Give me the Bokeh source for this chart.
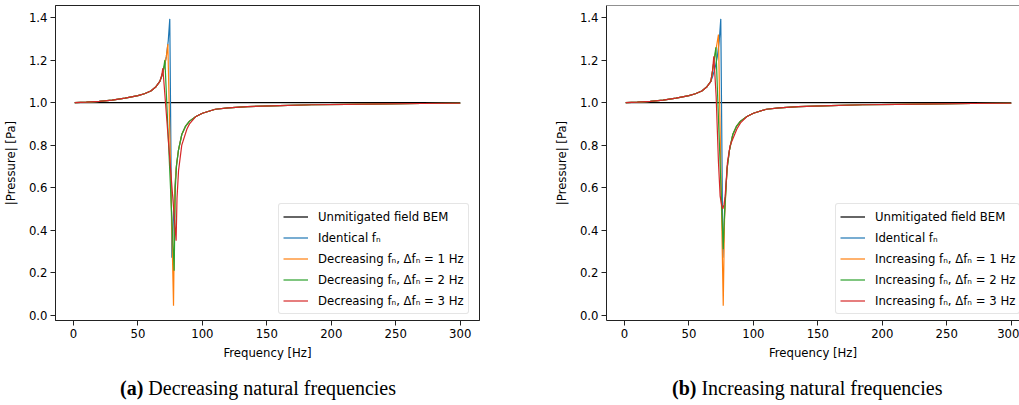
from bokeh.plotting import figure
from bokeh.layouts import row, column
from bokeh.models import FixedTicker, PrintfTickFormatter, Span, Range1d, Div
from bokeh.embed import file_html
from bokeh.resources import INLINE

# ---------------- data ----------------
# shared low-frequency rise (Hz, Pa)
f_low = [1, 10, 20, 30, 40, 50, 55, 60, 64, 67]
p_low = [1.000, 1.002, 1.006, 1.012, 1.021, 1.033, 1.042, 1.055, 1.075, 1.100]

# shared high-frequency tail
f_tail = [95, 100, 110, 120, 135, 160, 185, 212, 240, 270, 300]
p_tail = [0.935, 0.950, 0.969, 0.975, 0.981, 0.986, 0.990, 0.992, 0.994, 0.996, 0.997]

# unmitigated field (BEM)
f_bem = [1, 300]
p_bem = [1.0, 1.0]

# identical natural frequencies (same in both panels)
f_ident = [68.5, 70.5, 72.0, 73.5, 74.7, 76.3, 77.2, 78.1, 79.6, 81.4, 84.0, 87.0, 90.0]
p_ident = [1.125, 1.170, 1.215, 1.290, 1.394, 0.270, 0.400, 0.540, 0.690, 0.775, 0.850, 0.890, 0.913]

# (a) decreasing natural frequencies
f_dec1 = [68.5, 70.5, 72.0, 73.2, 77.6, 78.6, 79.6, 81.4, 84.0, 87.0, 90.0]
p_dec1 = [1.125, 1.170, 1.215, 1.276, 0.045, 0.580, 0.690, 0.775, 0.850, 0.890, 0.913]
f_dec2 = [68.5, 70.0, 70.9, 78.1, 79.0, 80.0, 81.4, 84.0, 87.0, 90.0]
p_dec2 = [1.125, 1.165, 1.201, 0.209, 0.600, 0.710, 0.775, 0.850, 0.890, 0.913]
f_dec3 = [68.5, 69.3, 79.6, 80.3, 81.5, 84.0, 88.0, 90.0]
p_dec3 = [1.130, 1.163, 0.350, 0.550, 0.680, 0.800, 0.876, 0.900]

# (b) increasing natural frequencies
f_inc1 = [68.3, 69.5, 71.0, 72.9, 76.6, 77.6, 78.6, 79.6, 81.4, 84.0, 87.0, 90.0]
p_inc1 = [1.150, 1.200, 1.250, 1.320, 0.045, 0.450, 0.580, 0.690, 0.775, 0.850, 0.890, 0.913]
f_inc2 = [68.3, 69.5, 70.9, 76.6, 77.6, 78.6, 79.6, 81.4, 84.0, 87.0, 90.0]
p_inc2 = [1.150, 1.200, 1.260, 0.310, 0.480, 0.580, 0.690, 0.775, 0.850, 0.890, 0.913]
f_inc3 = [68.3, 69.3, 71.1, 72.9, 74.2, 75.3, 76.3, 77.2, 78.1, 79.9, 82.0, 87.2, 90.0]
p_inc3 = [1.150, 1.218, 1.030, 0.720, 0.560, 0.520, 0.500, 0.520, 0.560, 0.720, 0.800, 0.876, 0.905]

x_ticks = [0, 50, 100, 150, 200, 250, 300]
y_ticks = [0.0, 0.2, 0.4, 0.6, 0.8, 1.0, 1.2, 1.4]

labels_dec = ["Unmitigated field BEM", "Identical fₙ",
              "Decreasing fₙ, Δfₙ = 1 Hz", "Decreasing fₙ, Δfₙ = 2 Hz",
              "Decreasing fₙ, Δfₙ = 3 Hz"]
labels_inc = ["Unmitigated field BEM", "Identical fₙ",
              "Increasing fₙ, Δfₙ = 1 Hz", "Increasing fₙ, Δfₙ = 2 Hz",
              "Increasing fₙ, Δfₙ = 3 Hz"]
captions = [("(a)", "Decreasing natural frequencies"),
            ("(b)", "Increasing natural frequencies")]

colors = ["#000000", "#1f77b4", "#ff7f0e", "#2ca02c", "#d62728"]

FONT = "DejaVu Sans"
FS = "11.7px"
PX_PER_HZ = 424 / (314.95 + 13.95)


def full(f_mid, p_mid):
    return f_low + f_mid + f_tail, p_low + p_mid + p_tail


def make_panel(width, border_right, x_end, series, labels, outline):
    p = figure(width=width, height=370, output_backend="svg", toolbar_location=None,
               x_range=Range1d(-13.95, x_end), y_range=Range1d(-0.025, 1.457),
               min_border_left=55, min_border_right=border_right,
               min_border_top=5, min_border_bottom=50)
    p.background_fill_color = "white"
    p.border_fill_color = "white"
    p.xgrid.visible = False
    p.ygrid.visible = False
    if outline:
        p.outline_line_color = "#222222"
        p.outline_line_width = 1
    else:
        p.outline_line_color = None
        p.add_layout(Span(location=1.457, dimension="width",
                          line_color="#222222", line_width=1))

    for (fx, fy), lab, col in zip(series, labels, colors):
        p.line(fx, fy, line_color=col, line_width=1.2, legend_label=lab)

    p.xaxis.ticker = FixedTicker(ticks=x_ticks)
    p.yaxis.ticker = FixedTicker(ticks=y_ticks)
    p.yaxis.formatter = PrintfTickFormatter(format="%.1f")
    for ax in (p.xaxis[0], p.yaxis[0]):
        ax.major_label_text_font = FONT
        ax.major_label_text_font_size = FS
        ax.major_label_text_color = "#000000"
        ax.axis_label_text_font = FONT
        ax.axis_label_text_font_size = FS
        ax.axis_label_text_font_style = "normal"
        ax.axis_label_text_color = "#000000"
        ax.major_tick_in = 0
        ax.major_tick_out = 5
        ax.minor_tick_line_color = None
        ax.axis_line_color = "#222222"
        ax.major_tick_line_color = "#222222"
        ax.major_label_standoff = 3
    p.xaxis.axis_label = "Frequency [Hz]"
    p.yaxis.axis_label = "|Pressure| [Pa]"
    p.xaxis.axis_label_standoff = 5
    p.yaxis.axis_label_standoff = 8

    lg = p.legend[0]
    lg.location = (223 if outline else 229, 6)
    lg.label_text_font = FONT
    lg.label_text_font_size = FS
    lg.label_text_color = "#000000"
    lg.label_height = 17
    lg.spacing = 4
    lg.padding = 4
    lg.margin = 0
    lg.glyph_width = 25
    lg.glyph_height = 17
    lg.label_standoff = 10
    lg.border_line_color = "#cccccc"
    lg.border_line_width = 1
    lg.border_radius = 3
    lg.background_fill_alpha = 0.8
    return p


def make_caption(width, left_pad, caption):
    bold, rest = caption
    html = ('<div style="padding-left:%dpx;padding-top:7px;font-family:\'Liberation Serif\',serif;'
            'font-size:20px;line-height:22px;white-space:nowrap;color:#000000;">'
            '<b>%s</b> %s</div>') % (left_pad, bold, rest)
    return Div(text=html, width=width, height=35, margin=0)


series_dec = [(f_bem, p_bem), full(f_ident, p_ident), full(f_dec1, p_dec1),
              full(f_dec2, p_dec2), full(f_dec3, p_dec3)]
series_inc = [(f_bem, p_bem), full(f_ident, p_ident), full(f_inc1, p_inc1),
              full(f_inc2, p_inc2), full(f_inc3, p_inc3)]

p1 = make_panel(551, 72, 314.95, series_dec, labels_dec, True)
p2 = make_panel(468, 0, -13.95 + 413 / PX_PER_HZ, series_inc, labels_inc, False)
c1 = make_caption(551, 120, captions[0])
c2 = make_caption(468, 121, captions[1])

layout = column(row(p1, p2, spacing=0), row(c1, c2, spacing=0), spacing=0)
open("out.html", "w").write(file_html(layout, INLINE))
